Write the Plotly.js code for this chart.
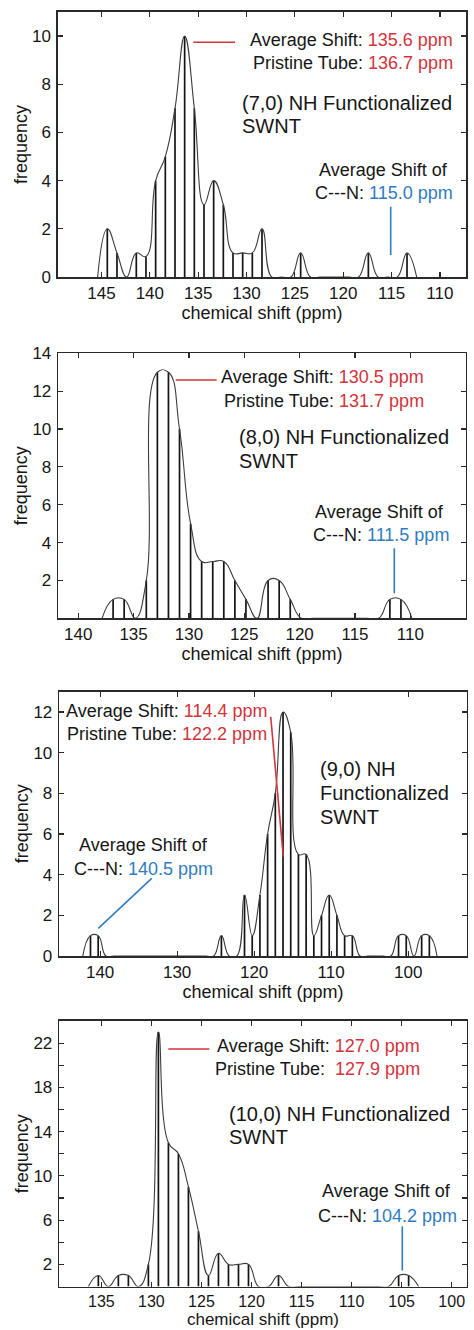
<!DOCTYPE html>
<html><head><meta charset="utf-8">
<script src="https://cdn.plot.ly/plotly-3.0.1.min.js"></script>
<style>html,body{margin:0;padding:0;background:#fff}#chart{width:474px;height:1330px}</style>
</head><body><div id="chart"></div>
<script>
// ---------------- data ----------------
const tubeLabels = ['(7,0)', '(8,0)', '(9,0)', '(10,0)'];
const avgShift = ['135.6', '130.5', '114.4', '127.0'];
const pristineShift = ['136.7', '131.7', '122.2', '127.9'];
const cnShift = ['115.0', '111.5', '140.5', '104.2'];

// (7,0) histogram: bin centre (ppm) and frequency
const shift70 = [145.4,144.4,143.4,142.4,141.4,140.4,139.4,138.4,137.4,136.4,135.4,134.4,133.4,132.4,131.4,130.4,129.4,128.4,127.4,126.4,125.4,124.4,123.4,122.4,121.4,120.4,119.4,118.4,117.4,116.4,115.4,114.4,113.4,112.4];
const freq70  = [0,2,1,0,1,0.85,4,5,7,10,7,3,4,3,1,1,1,2,0,0,0,1,0,0,0,0,0,0,1,0,0,0,1,0];

// (8,0)
const shift80 = [137.85,136.85,135.85,134.85,133.85,132.85,131.85,130.85,129.85,128.85,127.85,126.85,125.85,124.85,123.85,122.85,121.85,120.85,119.85,118.85,117.85,116.85,115.85,114.85,113.85,112.85,111.85,110.85,109.85];
const freq80  = [0,1,1,0,2,13,13,10,5,3,3,3,2,1,0,2,2,1,0,0,0,0,0,0,0,0,1,1,0];

// (9,0)
const shift90 = [142.25,141.25,140.25,139.25,138.25,137.25,136.25,135.25,134.25,133.25,132.25,131.25,130.25,129.25,128.25,127.25,126.25,125.25,124.25,123.25,122.25,121.25,120.25,119.25,118.25,117.25,116.25,115.25,114.25,113.25,112.25,111.25,110.25,109.25,108.25,107.25,106.25,105.25,104.25,103.25,102.25,101.25,100.25,99.25,98.25,97.25,96.25];
const freq90  = [0,1,1,0,0,0,0,0,0,0,0,0,0,0,0,0,0,0,1,0,0,3,1,3,6,8,12,11,5,5,1,2,3,2,1,1,0,0,0,0,0,1,1,0,1,1,0];

// (10,0)
const shift100 = [136.3,135.3,134.3,133.3,132.3,131.3,130.3,129.3,128.3,127.3,126.3,125.3,124.3,123.3,122.3,121.3,120.3,119.3,118.3,117.3,116.3,115.3,114.3,113.3,112.3,111.3,110.3,109.3,108.3,107.3,106.3,105.3,104.3,103.3];
const freq100  = [0,1,0,1,1,0,2,23,13,12,9,5,1,3,2,2,2,0,0,1,0,0,0,0,0,0,0,0,0,0,0,1,1,0];

// tick labels
const xTicks70 = [145,140,135,130,125,120,115,110];
const xTicks80 = [140,135,130,125,120,115,110,105];
const xTicks90 = [140,130,120,110,100];
const xTicks100 = [135,130,125,120,115,110,105,100];
const yTicks70 = [0,2,4,6,8,10];
const yTicks80 = [2,4,6,8,10,12,14];
const yTicks90 = [0,2,4,6,8,10,12];
const yTicks100 = [2,6,10,14,18,22];

// ---------------- layout / style ----------------
const W = 474, H = 1330;
const FONT = 'Liberation Sans, Arial, Helvetica, sans-serif';
const RED = '#d3333b', BLUE = '#2f7cc2', INK = '#161616';
const px = x => x / W, py = y => 1 - y / H;

const panels = [
  {shift: shift70, freq: freq70, xt: xTicks70, yt: yTicks70, xr: [149.5,107.3], yr: [0,11],
   box: {l:58, r:466, t:12, b:277}, xFont: 17, xTitleFont: 18},
  {shift: shift80, freq: freq80, xt: xTicks80, yt: yTicks80, xr: [141.8,105], yr: [0,14],
   box: {l:58.3, r:465.7, t:353.3, b:618.3}, xFont: 17, xTitleFont: 18},
  {shift: shift90, freq: freq90, xt: xTicks90, yt: yTicks90, xr: [145.3,92.4], yr: [0,13],
   box: {l:59.3, r:466.7, t:691.7, b:956}, xFont: 17, xTitleFont: 18},
  {shift: shift100, freq: freq100, xt: xTicks100, yt: yTicks100, xr: [139.2,98.5], yr: [0,24],
   box: {l:59.3, r:466.7, t:1021, b:1286.5}, minorY: 2, xFont: 16, xTitleFont: 17}
];

// text placement (pixels)
const textPos = [
  {avg:{x:455,y:40}, pri:{x:455,y:63.3}, red:[193.3,42.3,235,42.3],
   tube:[{t:'NHF',x:240,y:102.7},{t:'SWNT',x:240,y:126}],
   of:{x:383,y:170}, cn:{x:384,y:193.3}, blue:[390.7,206.7,390.7,255]},
  {avg:{x:426,y:376.7}, pri:{x:426,y:400.7}, red:[175.7,380,216.7,380],
   tube:[{t:'NHF',x:236.7,y:437.3},{t:'SWNT',x:236.7,y:460.7}],
   of:{x:379.7,y:511.7}, cn:{x:380.5,y:535}, blue:[394.3,548.3,394.3,593.3]},
  {avg:{x:269.3,y:710.7}, pri:{x:268.7,y:734}, red:[270.7,716.7,283.3,856.7],
   tube:[{t:'NH',x:318.3,y:769.3},{t:'Functionalized',x:318.3,y:793.3},{t:'SWNT',x:318.3,y:816.7}],
   of:{x:143,y:845}, cn:{x:143.8,y:869.3}, blue:[151.7,878.3,98.3,928.3]},
  {avg:{x:421.7,y:1046}, pri:{x:421.7,y:1069.3}, red:[168.3,1049,209.3,1049],
   tube:[{t:'NHF',x:226.7,y:1114},{t:'SWNT',x:226.7,y:1137}],
   of:{x:386.7,y:1190.7}, cn:{x:387.2,y:1215.7}, blue:[402.3,1226.3,402.3,1270.5]}
];

const data = [];
const layout = {
  width: W, height: H, margin: {l:0, r:0, t:0, b:0},
  paper_bgcolor: '#fff', plot_bgcolor: '#fff', showlegend: false,
  font: {family: FONT, color: INK, size: 17},
  annotations: [], shapes: []
};

panels.forEach((p, i) => {
  const n = i === 0 ? '' : String(i + 1);
  const xa = 'x' + n, ya = 'y' + n;
  const pxPerUnit = (p.box.r - p.box.l) / Math.abs(p.xr[0] - p.xr[1]);
  data.push({
    type: 'bar', x: p.shift, y: p.freq, xaxis: xa, yaxis: ya,
    width: 1.7 / pxPerUnit,
    marker: {color: '#141414', line: {width: 0}}, hoverinfo: 'skip'
  });
  data.push({
    type: 'scatter', mode: 'lines', x: p.shift, y: p.freq, xaxis: xa, yaxis: ya,
    line: {shape: 'spline', smoothing: 1.3, color: '#3c3c3c', width: 1.1}, hoverinfo: 'skip'
  });
  const common = {
    showline: true, linecolor: '#2a2a2a', linewidth: 1.6, mirror: 'ticks',
    ticks: 'inside', ticklen: 5, tickwidth: 1.2, tickcolor: '#2a2a2a',
    showgrid: false, zeroline: false, tickfont: {size: 17, color: INK, family: FONT}
  };
  layout['xaxis' + n] = Object.assign({}, common, {
    domain: [px(p.box.l), px(p.box.r)], anchor: ya, range: p.xr,
    tickmode: 'array', tickvals: p.xt, ticktext: p.xt.map(String), ticklabelstandoff: 0,
    tickfont: {size: p.xFont, color: INK, family: FONT},
    title: {text: 'chemical shift (ppm)', font: {size: p.xTitleFont, color: INK}, standoff: 0}
  });
  const yax = Object.assign({}, common, {
    domain: [py(p.box.b), py(p.box.t)], anchor: xa, range: p.yr,
    tickmode: 'array', tickvals: p.yt, ticktext: p.yt.map(String), ticklabelstandoff: 2,
    title: {text: 'frequency', font: {size: 18, color: INK}, standoff: 0}
  });
  if (p.minorY) yax.minor = {dtick: p.minorY, tick0: 0, ticks: 'inside', ticklen: 5, tickwidth: 1.2, tickcolor: '#2a2a2a'};
  layout['yaxis' + n] = yax;

  const t = textPos[i];
  const ann = (text, x, y, xanchor, size) => layout.annotations.push({
    text, x: px(x), y: py(y), xref: 'paper', yref: 'paper', xanchor, yanchor: 'middle',
    showarrow: false, font: {size: size || 18, color: INK, family: FONT}
  });
  ann('Average Shift: <span style="color:' + RED + '">' + avgShift[i] + ' ppm</span>', t.avg.x, t.avg.y, 'right');
  ann('Pristine Tube:' + (i === 3 ? '\u00a0 ' : ' ') + '<span style="color:' + RED + '">' + pristineShift[i] + ' ppm</span>', t.pri.x, t.pri.y, 'right');
  t.tube.forEach(tt => {
    let s = tt.t;
    if (s === 'NHF') s = tubeLabels[i] + ' NH Functionalized';
    else if (s === 'NH') s = tubeLabels[i] + ' NH';
    ann(s, tt.x, tt.y, 'left', 20);
  });
  ann('Average Shift of', t.of.x, t.of.y, 'center');
  ann('C---N: <span style="color:' + BLUE + '">' + cnShift[i] + ' ppm</span>', t.cn.x, t.cn.y, 'center');
  const line = (c, col) => layout.shapes.push({
    type: 'line', xref: 'paper', yref: 'paper',
    x0: px(c[0]), y0: py(c[1]), x1: px(c[2]), y1: py(c[3]),
    line: {color: col, width: 1.6}
  });
  line(t.red, RED);
  line(t.blue, BLUE);
});

Plotly.newPlot('chart', data, layout, {staticPlot: true, displayModeBar: false});
</script>
</body></html>
